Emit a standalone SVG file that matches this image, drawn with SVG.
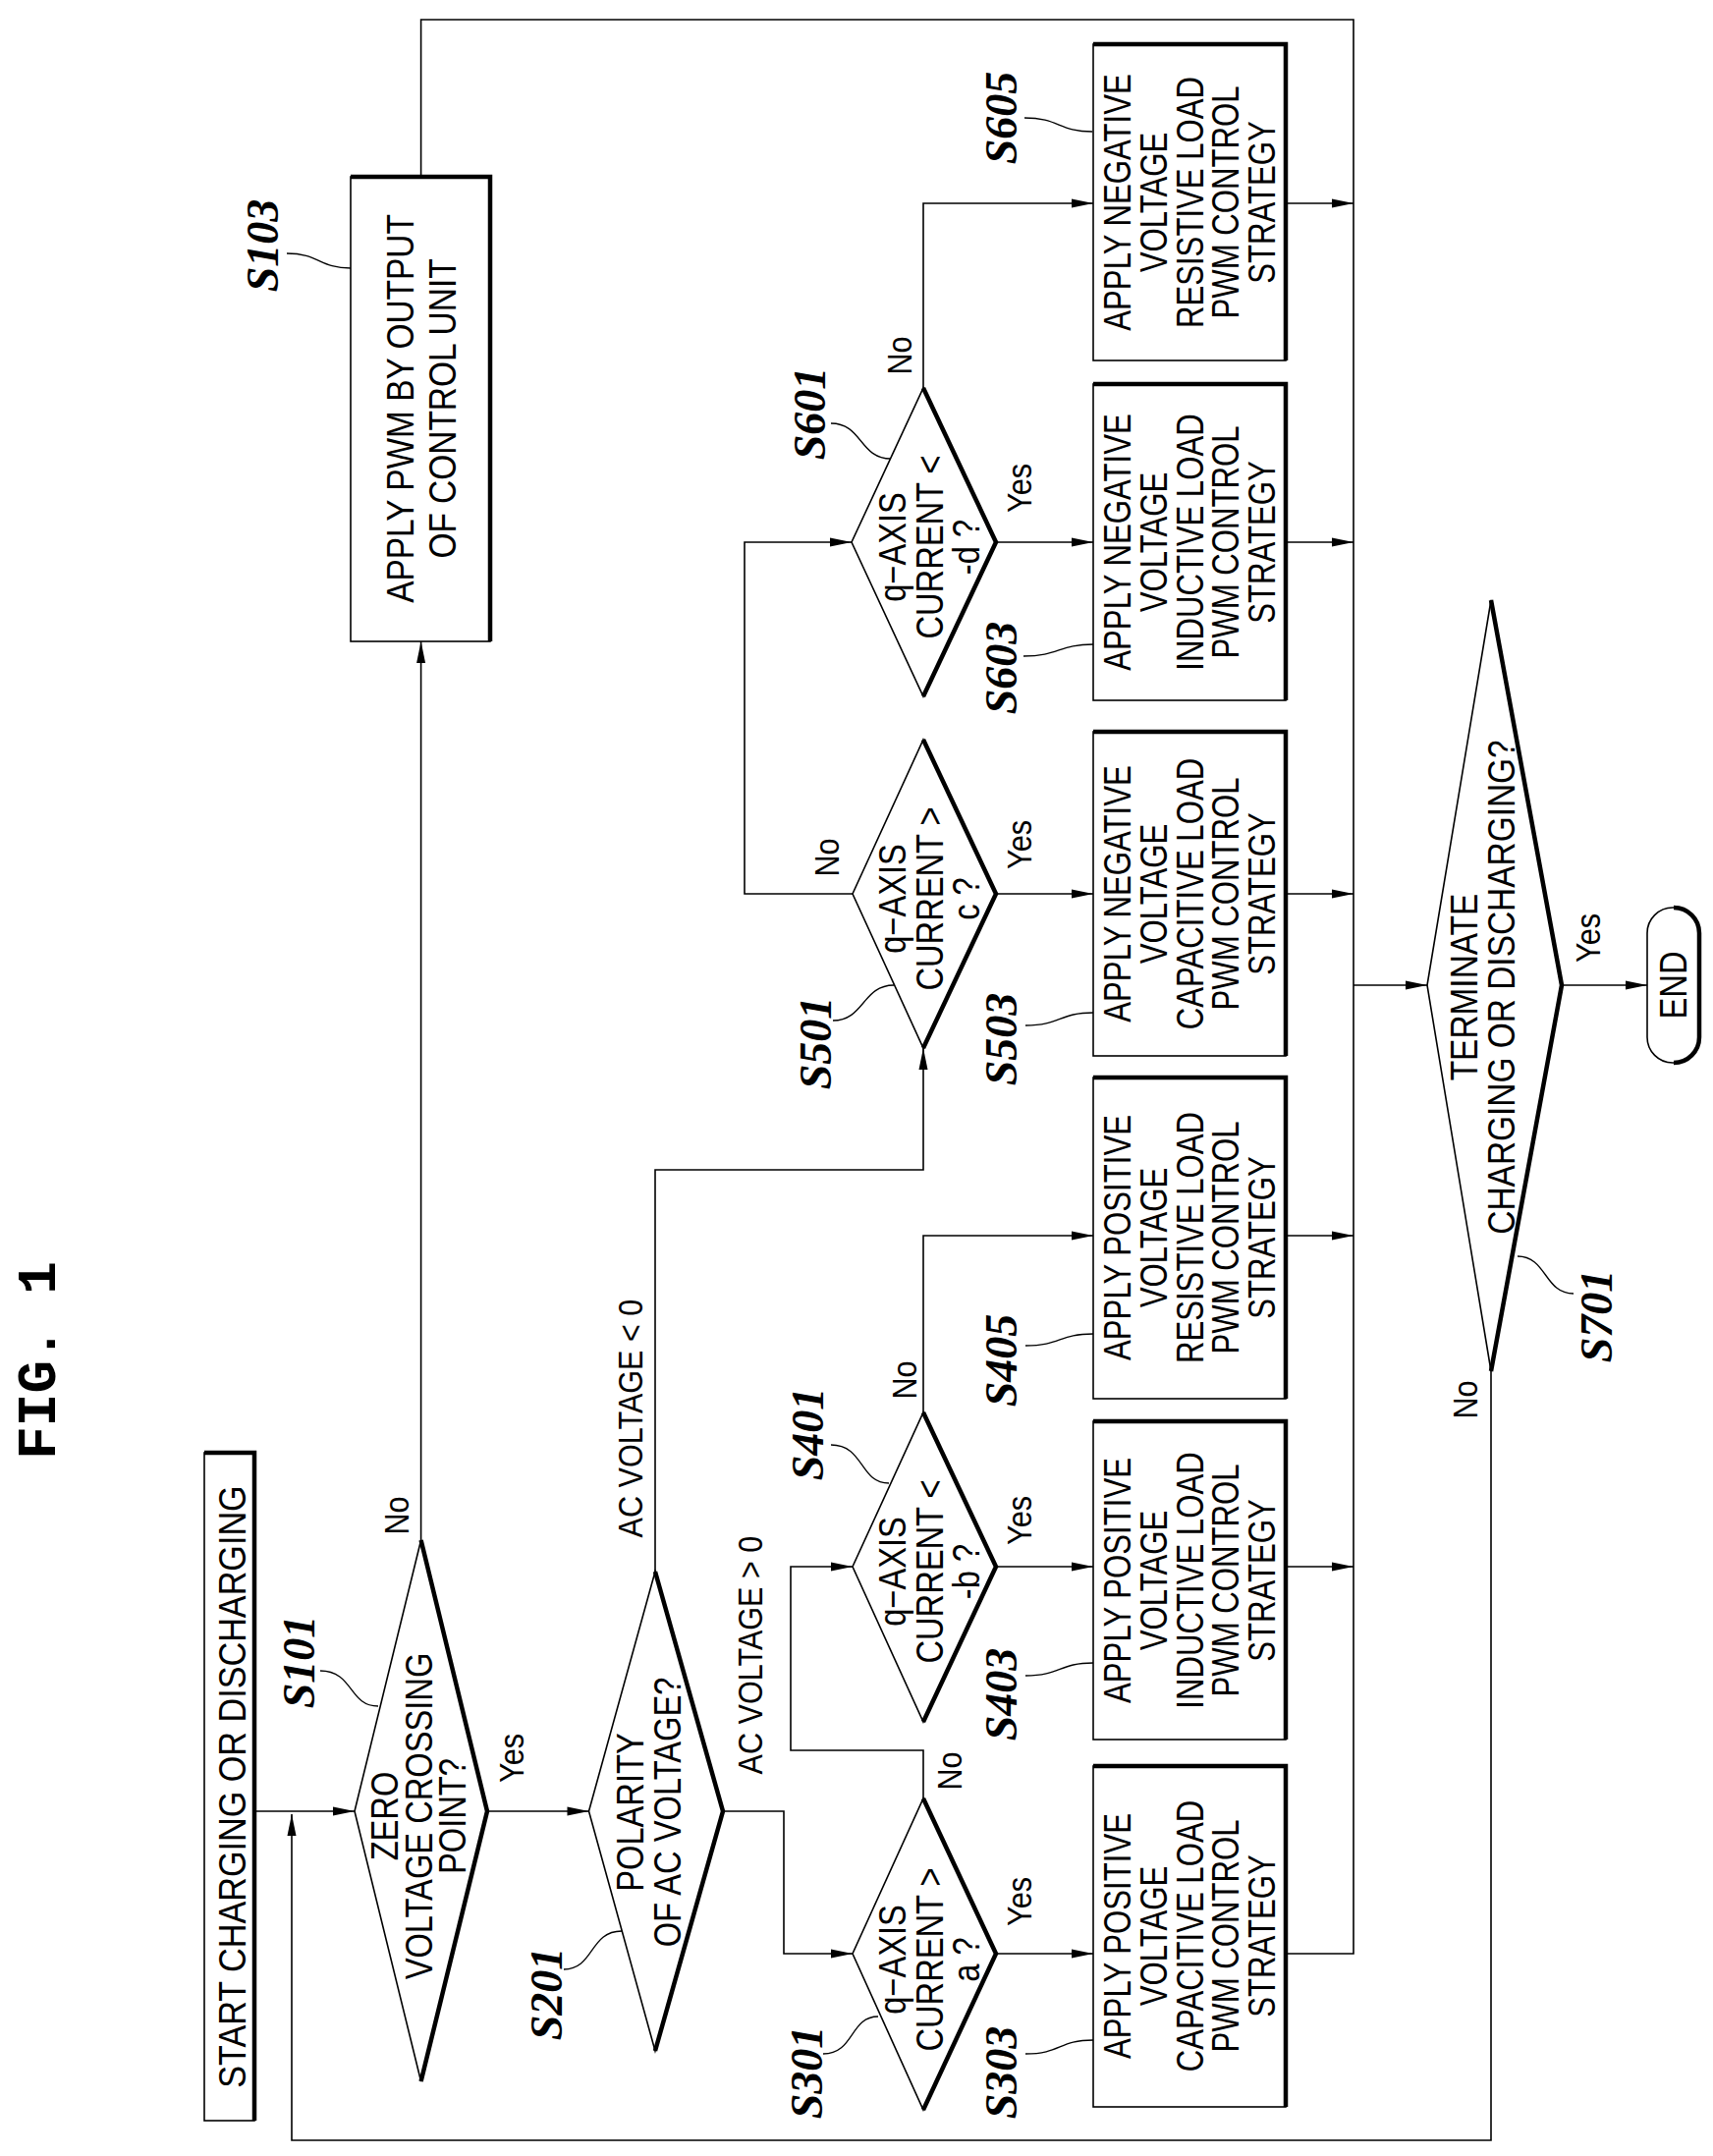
<svg xmlns="http://www.w3.org/2000/svg" width="1744" height="2195" viewBox="0 0 1744 2195">
<style>
.bg{fill:#fff}
.thin{fill:#fff;stroke:#000;stroke-width:1.6}
.thick{fill:none;stroke:#000;stroke-width:4.5;stroke-linejoin:miter}
.c{fill:none;stroke:#000;stroke-width:1.6}
.ld{fill:none;stroke:#000;stroke-width:1.3}
.t{font-family:"Liberation Sans",Arial,sans-serif;font-size:38px;text-anchor:middle;fill:#000}
.y{font-family:"Liberation Sans",Arial,sans-serif;font-size:36px;text-anchor:middle;fill:#000}
.l{font-family:"Liberation Serif","Times New Roman",serif;font-size:46px;font-style:italic;font-weight:bold;text-anchor:middle;fill:#000}
.f{font-family:"Liberation Mono","Courier New",monospace;font-size:56px;font-weight:bold;text-anchor:middle;fill:#000}
</style>
<defs>
<marker id="a" markerUnits="userSpaceOnUse" viewBox="-24 -6 26 12" refX="0" refY="0" markerWidth="26" markerHeight="12" orient="auto">
<path d="M0,0 L-22,-4.5 L-22,4.5 z" fill="#000"/>
</marker>
</defs>
<rect class="bg" width="1744" height="2195"/>
<text class="f" transform="translate(38,1385) rotate(-90)" y="18">FIG. 1</text>

<g id="connectors">
<path class="c" d="M259 1844 H361" marker-end="url(#a)"/>
<path class="c" d="M1518 1396 V2179 H297 V1847" marker-end="url(#a)"/>
<path class="c" d="M496 1844 H599.5" marker-end="url(#a)"/>
<path class="c" d="M428.6 1568 V653" marker-end="url(#a)"/>
<path class="c" d="M428.6 180 V20 H1378 V1989 H1309"/>
<path class="c" d="M736 1844 H798 V1989 H868" marker-end="url(#a)"/>
<path class="c" d="M667 1600 V1191 H940 V1067" marker-end="url(#a)"/>
<path class="c" d="M940 1831 V1782 H805 V1595 H868" marker-end="url(#a)"/>
<path class="c" d="M1014 1989 H1113" marker-end="url(#a)"/>
<path class="c" d="M1014 1595 H1113" marker-end="url(#a)"/>
<path class="c" d="M940 1438 V1258 H1113" marker-end="url(#a)"/>
<path class="c" d="M1014 910 H1113" marker-end="url(#a)"/>
<path class="c" d="M868 910 H758 V552 H867" marker-end="url(#a)"/>
<path class="c" d="M1014 552 H1113" marker-end="url(#a)"/>
<path class="c" d="M940 395 V207 H1113" marker-end="url(#a)"/>
<path class="c" d="M1309 207 H1378" marker-end="url(#a)"/>
<path class="c" d="M1309 552 H1378" marker-end="url(#a)"/>
<path class="c" d="M1309 910 H1378" marker-end="url(#a)"/>
<path class="c" d="M1309 1258 H1378" marker-end="url(#a)"/>
<path class="c" d="M1309 1595 H1378" marker-end="url(#a)"/>
<path class="c" d="M1378 1003 H1453" marker-end="url(#a)"/>
<path class="c" d="M1590 1003 H1677" marker-end="url(#a)"/>
<text class="y" transform="translate(403,1543) rotate(-90) scale(.85,1)" y="13">No</text>
<text class="y" transform="translate(520,1790) rotate(-90) scale(.85,1)" y="13">Yes</text>
<text class="y" transform="translate(641,1444) rotate(-90) scale(.85,1)" y="13">AC VOLTAGE &lt; 0</text>
<text class="y" transform="translate(763,1685) rotate(-90) scale(.85,1)" y="13">AC VOLTAGE &gt; 0</text>
<text class="y" transform="translate(1037,1936) rotate(-90) scale(.85,1)" y="13">Yes</text>
<text class="y" transform="translate(966,1803) rotate(-90) scale(.85,1)" y="13">No</text>
<text class="y" transform="translate(1037,1548) rotate(-90) scale(.85,1)" y="13">Yes</text>
<text class="y" transform="translate(920,1405) rotate(-90) scale(.85,1)" y="13">No</text>
<text class="y" transform="translate(841,873) rotate(-90) scale(.85,1)" y="13">No</text>
<text class="y" transform="translate(1037,860) rotate(-90) scale(.85,1)" y="13">Yes</text>
<text class="y" transform="translate(915,362) rotate(-90) scale(.85,1)" y="13">No</text>
<text class="y" transform="translate(1037,497) rotate(-90) scale(.85,1)" y="13">Yes</text>
<text class="y" transform="translate(1616,955) rotate(-90) scale(.85,1)" y="13">Yes</text>
<text class="y" transform="translate(1491,1425) rotate(-90) scale(.85,1)" y="13">No</text>
</g>

<g id="start">
<rect class="thin" x="208" y="1479" width="51" height="680"/>
<path class="thick" d="M208 1479 H259 V2159"/>
<text class="t" transform="translate(236,1819) rotate(-90) scale(.9,1)" y="13.5">START CHARGING OR DISCHARGING</text>
</g>

<g id="S101">
<path class="thin" d="M428.6 1568 L496 1844 L428.6 2119 L361 1844 Z"/>
<path class="thick" d="M428.6 1568 L496 1844 L428.6 2119"/>
<text class="t" transform="translate(426,1849) rotate(-90) scale(.86,1)"><tspan x="0" y="-21.5">ZERO</tspan><tspan x="0" y="13.5">VOLTAGE CROSSING</tspan><tspan x="0" y="48.5">POINT?</tspan></text>
<text class="l" transform="translate(305,1692) rotate(-90)" y="15">S101</text>
<path class="ld" d="M326 1701 C360 1701,355 1737,385 1737"/>
</g>

<g id="S103">
<rect class="thin" x="357" y="180" width="142" height="473"/>
<path class="thick" d="M357 180 H499 V653"/>
<text class="t" transform="translate(428.6,416) rotate(-90) scale(.88,1)"><tspan x="0" y="-8">APPLY PWM BY OUTPUT</tspan><tspan x="0" y="35">OF CONTROL UNIT</tspan></text>
<text class="l" transform="translate(268,250) rotate(-90)" y="15">S103</text>
<path class="ld" d="M292 258 C325 258,325 273,357 273"/>
</g>

<g id="S201">
<path class="thin" d="M667 1600 L736 1844 L667 2088 L599.5 1844 Z"/>
<path class="thick" d="M667 1600 L736 1844 L667 2088"/>
<text class="t" transform="translate(660,1845) rotate(-90) scale(.86,1)"><tspan x="0" y="-5.5">POLARITY</tspan><tspan x="0" y="32.5">OF AC VOLTAGE?</tspan></text>
<text class="l" transform="translate(557,2030) rotate(-90)" y="15">S201</text>
<path class="ld" d="M574 2005 C605 2005,600 1966,633 1966"/>
</g>

<g id="S301">
<path class="thin" d="M940 1831 L1014 1989 L940 2148 L868 1989 Z"/>
<path class="thick" d="M940 1831 L1014 1989 L940 2148"/>
<text class="t" transform="translate(946,1995) rotate(-90) scale(.86,1)"><tspan x="0" y="-24.5">q−AXIS</tspan><tspan x="0" y="13.5">CURRENT &gt;</tspan><tspan x="0" y="51.5">a ?</tspan></text>
<text class="l" transform="translate(822,2110) rotate(-90)" y="15">S301</text>
<path class="ld" d="M838 2091 C870 2091,865 2053,894 2053"/>
</g>

<g id="S303">
<rect class="thin" x="1113" y="1798" width="196" height="347"/>
<path class="thick" d="M1113 1798 H1309 V2145"/>
<text class="t" transform="translate(1211,1971) rotate(-90) scale(.82,1)"><tspan x="0" y="-60.5">APPLY POSITIVE</tspan><tspan x="0" y="-23.5">VOLTAGE</tspan><tspan x="0" y="13.5">CAPACITIVE LOAD</tspan><tspan x="0" y="50.5">PWM CONTROL</tspan><tspan x="0" y="87.5">STRATEGY</tspan></text>
<text class="l" transform="translate(1020,2110) rotate(-90)" y="15">S303</text>
<path class="ld" d="M1044 2091 C1080 2091,1078 2077,1113 2077"/>
</g>

<g id="S401">
<path class="thin" d="M940 1438 L1014 1595 L940 1753 L868 1595 Z"/>
<path class="thick" d="M940 1438 L1014 1595 L940 1753"/>
<text class="t" transform="translate(946,1600) rotate(-90) scale(.86,1)"><tspan x="0" y="-24.5">q−AXIS</tspan><tspan x="0" y="13.5">CURRENT &lt;</tspan><tspan x="0" y="51.5">-b ?</tspan></text>
<text class="l" transform="translate(823,1460) rotate(-90)" y="15">S401</text>
<path class="ld" d="M846 1471 C880 1471,875 1510,905 1510"/>
</g>

<g id="S403">
<rect class="thin" x="1113" y="1447" width="196" height="324"/>
<path class="thick" d="M1113 1447 H1309 V1771"/>
<text class="t" transform="translate(1211,1609) rotate(-90) scale(.82,1)"><tspan x="0" y="-60.5">APPLY POSITIVE</tspan><tspan x="0" y="-23.5">VOLTAGE</tspan><tspan x="0" y="13.5">INDUCTIVE LOAD</tspan><tspan x="0" y="50.5">PWM CONTROL</tspan><tspan x="0" y="87.5">STRATEGY</tspan></text>
<text class="l" transform="translate(1020,1725) rotate(-90)" y="15">S403</text>
<path class="ld" d="M1044 1706 C1080 1706,1078 1693,1113 1693"/>
</g>

<g id="S405">
<rect class="thin" x="1113" y="1097" width="196" height="327"/>
<path class="thick" d="M1113 1097 H1309 V1424"/>
<text class="t" transform="translate(1211,1260) rotate(-90) scale(.82,1)"><tspan x="0" y="-60.5">APPLY POSITIVE</tspan><tspan x="0" y="-23.5">VOLTAGE</tspan><tspan x="0" y="13.5">RESISTIVE LOAD</tspan><tspan x="0" y="50.5">PWM CONTROL</tspan><tspan x="0" y="87.5">STRATEGY</tspan></text>
<text class="l" transform="translate(1020,1385) rotate(-90)" y="15">S405</text>
<path class="ld" d="M1044 1370 C1080 1370,1078 1358,1113 1358"/>
</g>

<g id="S501">
<path class="thin" d="M940 753 L1014 910 L940 1067 L868 910 Z"/>
<path class="thick" d="M940 753 L1014 910 L940 1067"/>
<text class="t" transform="translate(946,915) rotate(-90) scale(.86,1)"><tspan x="0" y="-24.5">q−AXIS</tspan><tspan x="0" y="13.5">CURRENT &gt;</tspan><tspan x="0" y="51.5">c ?</tspan></text>
<text class="l" transform="translate(831,1062) rotate(-90)" y="15">S501</text>
<path class="ld" d="M848 1039 C880 1039,878 1003,910 1003"/>
</g>

<g id="S503">
<rect class="thin" x="1113" y="745" width="196" height="330"/>
<path class="thick" d="M1113 745 H1309 V1075"/>
<text class="t" transform="translate(1211,910) rotate(-90) scale(.82,1)"><tspan x="0" y="-60.5">APPLY NEGATIVE</tspan><tspan x="0" y="-23.5">VOLTAGE</tspan><tspan x="0" y="13.5">CAPACITIVE LOAD</tspan><tspan x="0" y="50.5">PWM CONTROL</tspan><tspan x="0" y="87.5">STRATEGY</tspan></text>
<text class="l" transform="translate(1020,1058) rotate(-90)" y="15">S503</text>
<path class="ld" d="M1044 1044 C1080 1044,1078 1031,1113 1031"/>
</g>

<g id="S601">
<path class="thin" d="M940 395 L1014 552 L940 709 L867 552 Z"/>
<path class="thick" d="M940 395 L1014 552 L940 709"/>
<text class="t" transform="translate(946,557) rotate(-90) scale(.86,1)"><tspan x="0" y="-24.5">q−AXIS</tspan><tspan x="0" y="13.5">CURRENT &lt;</tspan><tspan x="0" y="51.5">-d ?</tspan></text>
<text class="l" transform="translate(825,421) rotate(-90)" y="15">S601</text>
<path class="ld" d="M846 431 C878 431,875 467,907 467"/>
</g>

<g id="S603">
<rect class="thin" x="1113" y="391" width="196" height="322"/>
<path class="thick" d="M1113 391 H1309 V713"/>
<text class="t" transform="translate(1211,552) rotate(-90) scale(.82,1)"><tspan x="0" y="-60.5">APPLY NEGATIVE</tspan><tspan x="0" y="-23.5">VOLTAGE</tspan><tspan x="0" y="13.5">INDUCTIVE LOAD</tspan><tspan x="0" y="50.5">PWM CONTROL</tspan><tspan x="0" y="87.5">STRATEGY</tspan></text>
<text class="l" transform="translate(1020,680) rotate(-90)" y="15">S603</text>
<path class="ld" d="M1042 668 C1078 668,1078 656,1113 656"/>
</g>

<g id="S605">
<rect class="thin" x="1113" y="45" width="196" height="322"/>
<path class="thick" d="M1113 45 H1309 V367"/>
<text class="t" transform="translate(1211,206) rotate(-90) scale(.82,1)"><tspan x="0" y="-60.5">APPLY NEGATIVE</tspan><tspan x="0" y="-23.5">VOLTAGE</tspan><tspan x="0" y="13.5">RESISTIVE LOAD</tspan><tspan x="0" y="50.5">PWM CONTROL</tspan><tspan x="0" y="87.5">STRATEGY</tspan></text>
<text class="l" transform="translate(1020,120) rotate(-90)" y="15">S605</text>
<path class="ld" d="M1043 120 C1078 120,1078 134,1112 134"/>
</g>

<g id="S701">
<path class="thin" d="M1518 611 L1590 1003 L1518 1396 L1453 1003 Z"/>
<path class="thick" d="M1518 611 L1590 1003 L1518 1396"/>
<text class="t" transform="translate(1509,1005) rotate(-90) scale(.88,1)"><tspan x="0" y="-5.5">TERMINATE</tspan><tspan x="0" y="32.5">CHARGING OR DISCHARGING?</tspan></text>
<text class="l" transform="translate(1626,1340) rotate(-90)" y="15">S701</text>
<path class="ld" d="M1545 1279 C1575 1279,1572 1317,1602 1317"/>
</g>

<g id="END">
<rect class="thin" x="1677" y="924" width="53" height="158" rx="26" ry="26"/>
<path class="thick" d="M1704 924 A26 26 0 0 1 1730 950 V1056 A26 26 0 0 1 1704 1082"/>
<text class="t" transform="translate(1703,1003) rotate(-90) scale(.86,1)" y="13.5">END</text>
</g>
</svg>
